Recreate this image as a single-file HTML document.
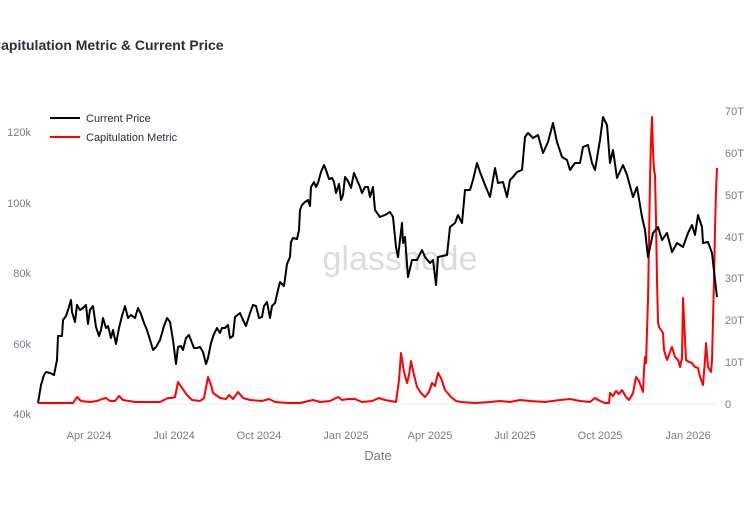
<!DOCTYPE html>
<html><head><meta charset="utf-8"><style>
body{margin:0;background:#fff;width:750px;height:500px;overflow:hidden;font-family:"Liberation Sans",Arial,sans-serif}
</style></head><body>
<svg width="750" height="500" xmlns="http://www.w3.org/2000/svg" font-family="Liberation Sans, Arial, sans-serif">
<text x="-9" y="50" font-size="14" font-weight="bold" fill="#2a2d3a">Capitulation Metric &amp; Current Price</text>
<text x="400" y="270" font-size="34" fill="#dcdcdc" text-anchor="middle">glassnode</text>
<line x1="38" y1="404" x2="717" y2="404" stroke="#eef0f4" stroke-width="1.5"/>
<g font-size="11" fill="#777a8c" text-anchor="end">
<text x="31" y="136">120k</text><text x="31" y="207">100k</text><text x="31" y="277">80k</text><text x="31" y="348">60k</text><text x="31" y="418">40k</text>
</g>
<g font-size="11" fill="#777a8c">
<text x="725" y="115">70T</text><text x="725" y="157">60T</text><text x="725" y="199">50T</text><text x="725" y="241">40T</text><text x="725" y="282">30T</text><text x="725" y="324">20T</text><text x="725" y="366">10T</text><text x="725" y="408">0</text>
</g>
<g font-size="11" fill="#777a8c" text-anchor="middle">
<text x="89" y="439">Apr 2024</text><text x="174" y="439">Jul 2024</text><text x="259" y="439">Oct 2024</text><text x="346" y="439">Jan 2025</text><text x="430" y="439">Apr 2025</text><text x="515" y="439">Jul 2025</text><text x="600" y="439">Oct 2025</text><text x="688" y="439">Jan 2026</text>
</g>
<text x="378" y="460" font-size="13" fill="#777a8c" text-anchor="middle">Date</text>
<polyline fill="none" stroke="#f00" stroke-width="2" stroke-linejoin="round" points="38,403 60,403 73,403 77,397 81,401 90,402 97,401 102,399 106,398 110,401 115,401 119,396 123,400 135,402 150,402 160,402 168,398 172,398 175,397 178,382 182,388 187,395 192,400 200,401 204,398 208,377 211,385 213,393 220,398 226,399 229,395 233,399 238,392 243,398 250,400 262,401 269,399 275,402 288,403 300,403 313,400 320,402 330,401 338,397 342,400 348,399 355,399 362,402 372,401 379,398 385,400 396,402 399,380 401,353 404,372 407,383 409,375 411,361 414,375 417,387 421,393 425,397 429,392 432,383 435,386 438,373 441,378 445,390 451,397 456,401 461,402 475,403 490,402 500,401 510,402 520,400 530,401 545,402 560,400 570,399 580,401 590,402 595,398 600,401 605,403 609,403 610,393 613,396 616,391 619,394 622,390 626,397 629,400 633,393 636,377 639,381 643,392 644,370 645,357 646,363 648,300 649,240 650,180 651,140 652,117 653,150 654,170 655,175 656,220 657,280 658,322 659,327 661,330 663,333 664,350 667,360 670,352 672,347 675,357 678,360 680,367 682,358 683,298 685,340 686,360 689,362 692,363 695,367 698,368 700,377 702,382 703,385 705,360 706,343 708,367 711,372 712,360 713,320 714,280 715,230 716,190 717,168"/>
<polyline fill="none" stroke="#000" stroke-width="2" stroke-linejoin="round" points="38,403 41,385 44,375 46,372 50,373 54,375 57,360 58,336 62,336 63,320 66,316 68,310 71,300 72,312 75,322 77,305 80,310 83,308 86,305 88,324 90,310 93,306 96,327 99,336 101,330 103,318 106,328 108,326 111,338 113,330 116,344 119,328 122,316 125,306 128,318 131,315 135,318 138,308 141,314 144,323 147,330 151,343 153,350 156,347 160,340 164,326 167,318 170,322 173,340 176,364 178,347 181,346 183,350 186,338 189,335 192,343 194,348 197,348 200,347 203,352 206,364 208,358 211,343 214,334 217,328 220,333 222,328 225,328 228,325 230,338 233,336 235,317 240,313 243,320 246,326 250,313 253,305 256,306 259,318 262,317 264,306 267,302 270,318 272,306 275,303 278,290 280,282 282,284 284,286 287,264 290,257 291,242 293,238 297,239 299,230 300,210 302,205 305,202 308,200 310,206 311,187 314,182 316,187 318,183 321,172 324,165 326,170 329,179 332,178 334,182 336,193 339,184 341,200 343,195 345,177 348,181 351,188 354,173 357,180 360,187 362,193 365,187 368,187 370,197 373,187 375,210 380,217 385,215 390,212 393,217 396,247 398,257 402,223 403,243 405,237 408,277 412,260 417,260 422,250 425,257 430,263 433,260 436,285 438,257 447,255 450,227 455,223 458,215 462,223 465,190 470,190 473,180 477,163 480,172 485,185 490,197 495,168 498,183 503,182 507,197 510,180 513,177 517,172 522,170 525,137 528,133 533,138 538,135 543,153 548,142 553,123 557,142 562,157 567,160 570,170 575,163 580,163 583,147 588,145 592,163 595,170 600,140 603,117 607,125 610,163 613,150 617,178 623,165 627,175 633,197 637,187 642,217 645,230 648,257 653,233 658,227 662,240 667,233 672,252 677,243 683,247 688,233 692,225 695,235 698,215 702,227 703,243 708,242 712,253 715,280 717,297"/>
<line x1="50" y1="118" x2="80" y2="118" stroke="#000" stroke-width="2"/>
<text x="86" y="122" font-size="11" fill="#2a2d3a">Current Price</text>
<line x1="50" y1="137" x2="80" y2="137" stroke="#f00" stroke-width="2"/>
<text x="86" y="141" font-size="11" fill="#2a2d3a">Capitulation Metric</text>
</svg>
</body></html>
